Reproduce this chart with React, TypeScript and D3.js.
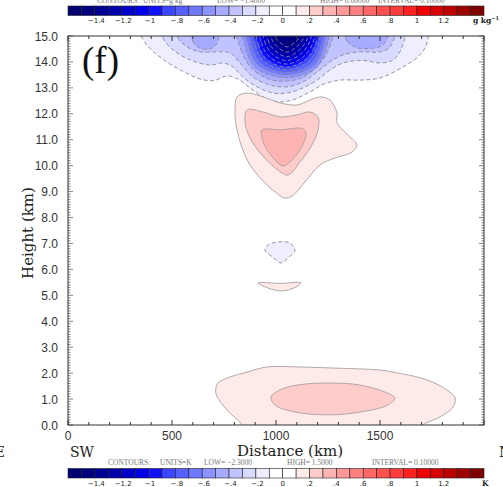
import React, { useRef, useEffect } from 'react';
import * as d3 from 'd3';

type Pt = [number, number];

// colour bar: 31 cells of 0.1 from -1.6 to 1.5
const barColors = [
    '#000070', '#00007f', '#000092', '#0000aa', '#0000c8', '#0000e8', '#1010ff',
    '#3a46ff', '#5560ff', '#7078ff', '#8c92ff', '#a6abff', '#c0c3ff', '#d8daff', '#eeeeff',
    '#ffffff', '#ffffff',
    '#ffeaea', '#ffcccc', '#ffb4b4', '#ff9898', '#ff8080', '#ff6666', '#ff5050', '#ff3c3c',
    '#ff2020', '#f00000', '#d80000', '#bb0000', '#9c0000', '#800000',
];
const barStart = -1.6;
const barStep = 0.1;
const barTickValues = [-1.4, -1.2, -1, -0.8, -0.6, -0.4, -0.2, 0, 0.2, 0.4, 0.6, 0.8, 1, 1.2];
const barTickLabels = ['−1.4', '−1.2', '−1', '−.8', '−.6', '−.4', '−.2', '0', '.2', '.4', '.6', '.8', '1', '1.2'];

const heightTicks = [0, 1, 2, 3, 4, 5, 6, 7, 8, 9, 10, 11, 12, 13, 14, 15];
const distanceTicks = [0, 500, 1000, 1500];

// contour outlines: [distance km, height km]
const negTop01: Pt[] = [[330, 15.4], [351, 15.0], [375, 14.69], [423, 14.31], [490, 13.92], [567, 13.58], [635, 13.34], [702, 13.28], [764, 13.46], [817, 13.34], [875, 13.0], [938, 12.65], [1010, 12.46], [1077, 12.53], [1154, 12.8], [1231, 13.15], [1308, 13.3], [1404, 13.3], [1500, 13.38], [1611, 13.81], [1692, 14.27], [1726, 14.73], [1722, 15.4]];
const negTop02: Pt[] = [[450, 15.4], [457, 14.93], [505, 14.46], [587, 14.08], [683, 13.88], [745, 13.96], [793, 13.81], [841, 13.42], [909, 13.04], [986, 12.8], [1053, 12.8], [1130, 13.0], [1197, 13.3], [1260, 13.69], [1322, 13.96], [1418, 14.06], [1500, 13.96], [1563, 14.08], [1606, 14.58], [1612, 15.4]];
const negTop03: Pt[] = [[522, 15.4], [529, 14.93], [572, 14.58], [635, 14.39], [716, 14.39], [779, 14.35], [827, 13.96], [889, 13.42], [971, 13.11], [1053, 13.04], [1130, 13.23], [1197, 13.61], [1260, 14.0], [1322, 14.27], [1404, 14.39], [1500, 14.39], [1548, 14.58], [1565, 15.4]];
const negTop04: Pt[] = [[815, 15.4], [832, 14.46], [880, 13.78], [965, 13.34], [1053, 13.26], [1140, 13.45], [1205, 13.9], [1252, 14.46], [1268, 15.4]];
const negLeftEye04: Pt[] = [[590, 15.4], [600, 14.8], [630, 14.55], [680, 14.5], [715, 14.7], [724, 15.4]];
const negRightEye04: Pt[] = [[1330, 15.4], [1342, 14.8], [1385, 14.56], [1450, 14.52], [1515, 14.66], [1540, 15.4]];
const negCore05: Pt[] = [[850, 15.4], [855, 14.5], [905, 13.75], [1048, 13.4], [1190, 13.75], [1240, 14.5], [1245, 15.4]];
const negCore06: Pt[] = [[865, 15.4], [870, 14.55], [918, 13.84], [1048, 13.5], [1180, 13.84], [1227, 14.55], [1232, 15.4]];
const negCore07: Pt[] = [[880, 15.4], [885, 14.6], [930, 13.93], [1048, 13.6], [1168, 13.93], [1215, 14.6], [1220, 15.4]];
const negCore08: Pt[] = [[895, 15.4], [900, 14.65], [943, 14.02], [1048, 13.7], [1155, 14.02], [1202, 14.65], [1207, 15.4]];
const negCore09: Pt[] = [[910, 15.4], [915, 14.7], [955, 14.1], [1048, 13.8], [1143, 14.1], [1190, 14.7], [1195, 15.4]];
const negCore10: Pt[] = [[925, 15.4], [930, 14.75], [968, 14.2], [1050, 13.92], [1132, 14.2], [1177, 14.75], [1182, 15.4]];
const negCore11: Pt[] = [[940, 15.4], [945, 14.8], [980, 14.32], [1052, 14.05], [1120, 14.32], [1163, 14.8], [1168, 15.4]];
const negCore12: Pt[] = [[957, 15.4], [961, 14.85], [993, 14.45], [1052, 14.2], [1110, 14.45], [1148, 14.85], [1152, 15.4]];
const negCore13: Pt[] = [[975, 15.4], [979, 14.9], [1005, 14.6], [1054, 14.38], [1100, 14.6], [1131, 14.9], [1135, 15.4]];
const negCore14: Pt[] = [[995, 15.4], [998, 14.95], [1020, 14.75], [1055, 14.58], [1090, 14.75], [1112, 14.95], [1115, 15.4]];

const posUpper01: Pt[] = [[813, 12.65], [861, 12.8], [938, 12.65], [1019, 12.42], [1101, 12.34], [1163, 12.53], [1212, 12.65], [1260, 12.53], [1293, 12.03], [1293, 11.65], [1356, 11.11], [1389, 10.8], [1365, 10.52], [1284, 10.3], [1212, 10.03], [1139, 9.37], [1077, 8.83], [1043, 8.75], [995, 8.99], [933, 9.45], [875, 10.03], [837, 10.68], [808, 11.57], [803, 12.15]];
const posUpper02: Pt[] = [[861, 12.15], [938, 12.07], [1019, 11.88], [1101, 11.96], [1163, 12.07], [1202, 11.88], [1202, 11.38], [1173, 10.8], [1115, 10.14], [1058, 9.64], [1010, 9.83], [933, 10.41], [875, 11.07], [851, 11.69]];
const posUpper03: Pt[] = [[933, 11.38], [1019, 11.38], [1130, 11.42], [1144, 11.18], [1115, 10.61], [1067, 10.14], [1034, 9.99], [995, 10.22], [952, 10.68], [933, 11.07]];
const negBlob01: Pt[] = [[962, 6.94], [1010, 7.06], [1067, 7.02], [1091, 6.75], [1058, 6.44], [1024, 6.25], [990, 6.44], [947, 6.75]];
const posSliver01: Pt[] = [[913, 5.48], [1019, 5.46], [1120, 5.48], [1096, 5.32], [1029, 5.17], [962, 5.28]];
const posLower01: Pt[] = [[850, -0.4], [837, 0], [764, 0.58], [711, 1.23], [721, 1.62], [779, 1.85], [861, 2.04], [957, 2.24], [1101, 2.24], [1260, 2.2], [1500, 2.12], [1563, 2.04], [1726, 1.74], [1822, 1.35], [1861, 1.04], [1851, 0.69], [1788, 0.31], [1707, 0], [1680, -0.4]];
const posLower02: Pt[] = [[976, 1.08], [1019, 1.35], [1101, 1.54], [1260, 1.62], [1404, 1.54], [1524, 1.27], [1572, 1.04], [1538, 0.77], [1404, 0.5], [1260, 0.39], [1091, 0.5], [995, 0.77]];

const contourLevels = [
    -0.1, -0.2, -0.3, -0.4, -0.4, -0.4, -0.5, -0.6, -0.7, -0.8, -0.9, -1.0, -1.1, -1.2, -1.3, -1.4,
    0.1, 0.2, 0.3, -0.1, 0.1, 0.1, 0.2,
];
const contourShapes = [
    negTop01, negTop02, negTop03, negTop04, negLeftEye04, negRightEye04, negCore05, negCore06,
    negCore07, negCore08, negCore09, negCore10, negCore11, negCore12, negCore13, negCore14,
    posUpper01, posUpper02, posUpper03, negBlob01, posSliver01, posLower01, posLower02,
];

export default function App() {
    const svgRef = useRef<SVGSVGElement | null>(null);

    useEffect(() => {
        const width = 503;
        const height = 487;
        const plot = { left: 68, right: 484, top: 36, bottom: 425 };

        d3.select(svgRef.current).selectAll('*').remove();
        const svg = d3.select(svgRef.current).attr('width', width).attr('height', height);

        svg.append('rect').attr('width', width).attr('height', height).attr('fill', '#fff');

        const x = d3.scaleLinear().domain([0, 2000]).range([plot.left, plot.right]);
        const y = d3.scaleLinear().domain([0, 15]).range([plot.bottom, plot.top]);
        const bar = d3.scaleLinear().domain([barStart, barStart + barStep * barColors.length]).range([plot.left, plot.right]);
        const color = d3.scaleThreshold<number, string>()
            .domain(d3.range(1, barColors.length).map((i) => barStart + barStep * i))
            .range(barColors);

        svg.append('clipPath').attr('id', 'plotclip')
            .append('rect')
            .attr('x', plot.left).attr('y', plot.top)
            .attr('width', plot.right - plot.left).attr('height', plot.bottom - plot.top);

        const line = d3.line<Pt>()
            .x((d) => x(d[0]))
            .y((d) => y(d[1]))
            .curve(d3.curveCatmullRomClosed.alpha(0.5));

        const g = svg.append('g').attr('clip-path', 'url(#plotclip)');
        contourShapes.forEach((pts, i) => {
            const lev = contourLevels[i];
            const mid = lev < 0 ? lev - 0.05 : lev + 0.05;
            g.append('path')
                .attr('d', line(pts))
                .attr('fill', color(mid))
                .attr('stroke', lev < 0 ? '#8a8a9a' : '#a8a0a0')
                .attr('stroke-width', 0.9)
                .attr('stroke-dasharray', lev < 0 ? '4,2.5' : null);
        });

        // frame and ticks
        const axisColor = '#333';
        svg.append('rect')
            .attr('x', plot.left).attr('y', plot.top)
            .attr('width', plot.right - plot.left).attr('height', plot.bottom - plot.top)
            .attr('fill', 'none').attr('stroke', axisColor).attr('stroke-width', 1);

        d3.range(0, 2001, 100).forEach((t) => {
            const len = t % 500 === 0 ? 5 : 3;
            svg.append('line').attr('x1', x(t)).attr('x2', x(t))
                .attr('y1', plot.bottom).attr('y2', plot.bottom - len)
                .attr('stroke', axisColor).attr('stroke-width', 1);
            svg.append('line').attr('x1', x(t)).attr('x2', x(t))
                .attr('y1', plot.top).attr('y2', plot.top + len)
                .attr('stroke', axisColor).attr('stroke-width', 1);
        });
        d3.range(0, 151).forEach((i) => {
            const h = i / 10;
            const len = i % 10 === 0 ? 5 : 2.5;
            svg.append('line').attr('x1', plot.left).attr('x2', plot.left + len)
                .attr('y1', y(h)).attr('y2', y(h))
                .attr('stroke', axisColor).attr('stroke-width', 0.6);
            svg.append('line').attr('x1', plot.right).attr('x2', plot.right - len)
                .attr('y1', y(h)).attr('y2', y(h))
                .attr('stroke', axisColor).attr('stroke-width', 0.6);
        });

        heightTicks.forEach((h) => {
            svg.append('text')
                .attr('x', plot.left - 10).attr('y', y(h) + 4.5)
                .attr('text-anchor', 'end')
                .attr('font-family', 'Liberation Sans').attr('font-size', 12)
                .attr('fill', '#333')
                .text(h.toFixed(1));
        });
        distanceTicks.forEach((t) => {
            svg.append('text')
                .attr('x', x(t)).attr('y', plot.bottom + 15)
                .attr('text-anchor', 'middle')
                .attr('font-family', 'Liberation Sans').attr('font-size', 12)
                .attr('fill', '#333')
                .text(String(t));
        });

        svg.append('text')
            .attr('transform', `translate(33,233) rotate(-90)`)
            .attr('text-anchor', 'middle')
            .attr('font-family', 'DejaVu Serif').attr('font-size', 15)
            .attr('fill', '#222')
            .text('Height (km)');
        svg.append('text')
            .attr('x', 290).attr('y', 456)
            .attr('text-anchor', 'middle')
            .attr('font-family', 'DejaVu Serif').attr('font-size', 15)
            .attr('fill', '#222')
            .text('Distance (km)');
        svg.append('text')
            .attr('x', 70).attr('y', 457)
            .attr('font-family', 'DejaVu Serif').attr('font-size', 14)
            .attr('fill', '#222')
            .text('SW');
        svg.append('text')
            .attr('x', 5).attr('y', 457).attr('text-anchor', 'end')
            .attr('font-family', 'DejaVu Serif').attr('font-size', 14)
            .attr('fill', '#222')
            .text('NE');
        svg.append('text')
            .attr('x', 499).attr('y', 457)
            .attr('font-family', 'DejaVu Serif').attr('font-size', 14)
            .attr('fill', '#222')
            .text('NE');
        svg.append('text')
            .attr('x', 82).attr('y', 73)
            .attr('font-family', 'Liberation Serif').attr('font-size', 37)
            .attr('fill', '#111')
            .text('(f)');

        // colour bars
        const drawBar = (top: number, unit: string, sup: string | null, header: [number, string][], headerY: number) => {
            const hg = svg.append('text')
                .attr('y', headerY)
                .attr('font-family', 'Liberation Serif').attr('font-size', 7.5)
                .attr('fill', '#777');
            header.forEach(([hx, s]) => hg.append('tspan').attr('x', hx).text(s));

            barColors.forEach((c, i) => {
                const v0 = barStart + barStep * i;
                svg.append('rect')
                    .attr('x', bar(v0)).attr('y', top)
                    .attr('width', bar(v0 + barStep) - bar(v0)).attr('height', 9.5)
                    .attr('fill', c)
                    .attr('stroke', '#222').attr('stroke-width', 0.6);
            });
            barTickValues.forEach((v, i) => {
                svg.append('text')
                    .attr('x', bar(v) + (v < 0 ? 1.5 : 0)).attr('y', top + 17)
                    .attr('text-anchor', 'middle')
                    .attr('font-family', 'DejaVu Sans').attr('font-size', 7)
                    .attr('fill', '#222')
                    .text(barTickLabels[i]);
            });
            const ut = svg.append('text')
                .attr('x', plot.right - (sup ? 11 : 2)).attr('y', top + 17)
                .attr('font-family', 'DejaVu Serif').attr('font-size', 7.5)
                .attr('font-weight', 'bold')
                .attr('fill', '#222')
                .text(unit);
            if (sup) ut.append('tspan').attr('dy', -3).attr('font-size', 5).text(sup);
        };

        drawBar(6, 'g kg', '−1', [
            [97, 'CONTOURS:'], [143, 'UNITS=g kg'], [217, 'LOW= −1.4000'], [320, 'HIGH= 0.60000'], [378, 'INTERVAL= 0.10000'],
        ], 2.5);
        drawBar(468.5, 'K', null, [
            [108, 'CONTOURS:'], [160, 'UNITS=K'], [204, 'LOW= −2.3000'], [287, 'HIGH=  1.5000'], [372, 'INTERVAL=  0.10000'],
        ], 465);
    }, []);

    return (
        <div style={{ position: 'absolute', left: 0, top: 0 }}>
            <svg ref={svgRef}></svg>
        </div>
    );
}
